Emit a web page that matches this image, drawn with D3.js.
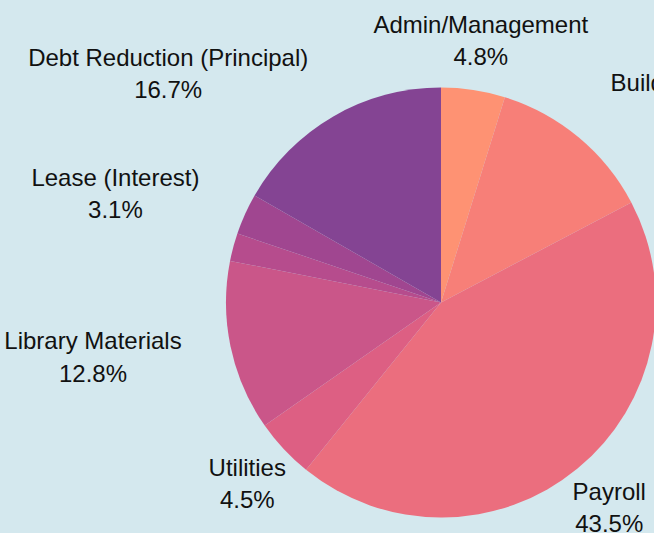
<!DOCTYPE html>
<html>
<head>
<meta charset="utf-8">
<script src="https://cdn.jsdelivr.net/npm/d3@7"></script>
<style>
  html, body { margin: 0; padding: 0; background: #d4e8ee; overflow: hidden; }
  svg { display: block; }
</style>
</head>
<body>
<svg id="chart" width="654" height="533"></svg>
<script>
const categories = ["Admin/Management", "Building Maintenance", "Payroll", "Utilities",
  "Library Materials", "Lease (Principal)", "Lease (Interest)", "Debt Reduction (Principal)"];
const values = [4.8, 12.5, 43.5, 4.5, 12.8, 2.1, 3.1, 16.7];
const colors = ["#fe9273", "#f77f78", "#eb6e7e", "#dd5f83", "#ca5689", "#b64c8d", "#a04690", "#844493"];

const W = 654, H = 533;
const cx = 441, cy = 302.5, R = 215, labelR = 265;
const fontSize = 24, lineGap = 32.5;

const svg = d3.select("#chart");
svg.append("rect").attr("width", W).attr("height", H).attr("fill", "#d4e8ee");

const data = categories.map((c, i) => ({ name: c, value: values[i], color: colors[i] }));
const pie = d3.pie().value(d => d.value).sort(null);
const arcs = pie(data);
const arc = d3.arc().innerRadius(0).outerRadius(R);

const g = svg.append("g").attr("transform", `translate(${cx},${cy})`);
g.selectAll("path").data(arcs).enter().append("path")
  .attr("d", arc).attr("fill", d => d.data.color);

// labels
const lg = svg.append("g").attr("font-family", "'Liberation Sans', Arial, sans-serif")
  .attr("font-size", fontSize).attr("fill", "#111");
const total = d3.sum(values);
const fmt = v => (v / total * 100).toFixed(1) + "%";

const placed = [];
function overlapsCircle(box) {
  const nx = Math.max(box.x0, Math.min(cx, box.x1));
  const ny = Math.max(box.y0, Math.min(cy, box.y1));
  return Math.hypot(nx - cx, ny - cy) < R;
}
function boxesOverlap(a, b) {
  return a.x0 < b.x1 && b.x0 < a.x1 && a.y0 < b.y1 && b.y0 < a.y1;
}

const order = arcs.map((a, i) => i).sort((a, b) => values[b] - values[a]);
order.forEach(i => {
  const a = arcs[i];
  const mid = (a.startAngle + a.endAngle) / 2;
  const ax = cx + labelR * Math.sin(mid);
  const ay = cy - labelR * Math.cos(mid);
  const grp = lg.append("g");
  const t1 = grp.append("text").attr("text-anchor", "middle").text(a.data.name);
  const t2 = grp.append("text").attr("text-anchor", "middle").text(fmt(a.data.value));
  const w = Math.max(t1.node().getComputedTextLength(), t2.node().getComputedTextLength());
  const h = lineGap + fontSize * 1.0;
  let centerX = ax;
  let box = { x0: centerX - w / 2, x1: centerX + w / 2, y0: ay - h / 2, y1: ay + h / 2 };
  if (overlapsCircle(box)) {
    centerX = Math.sin(mid) >= 0 ? ax + w / 2 : ax - w / 2;
    box = { x0: centerX - w / 2, x1: centerX + w / 2, y0: ay - h / 2, y1: ay + h / 2 };
  }
  if (placed.some(b => boxesOverlap(b, box))) { grp.remove(); return; }
  placed.push(box);
  t1.attr("x", centerX).attr("y", ay - 7.6);
  t2.attr("x", centerX).attr("y", ay - 7.6 + lineGap);
});
</script>
</body>
</html>
